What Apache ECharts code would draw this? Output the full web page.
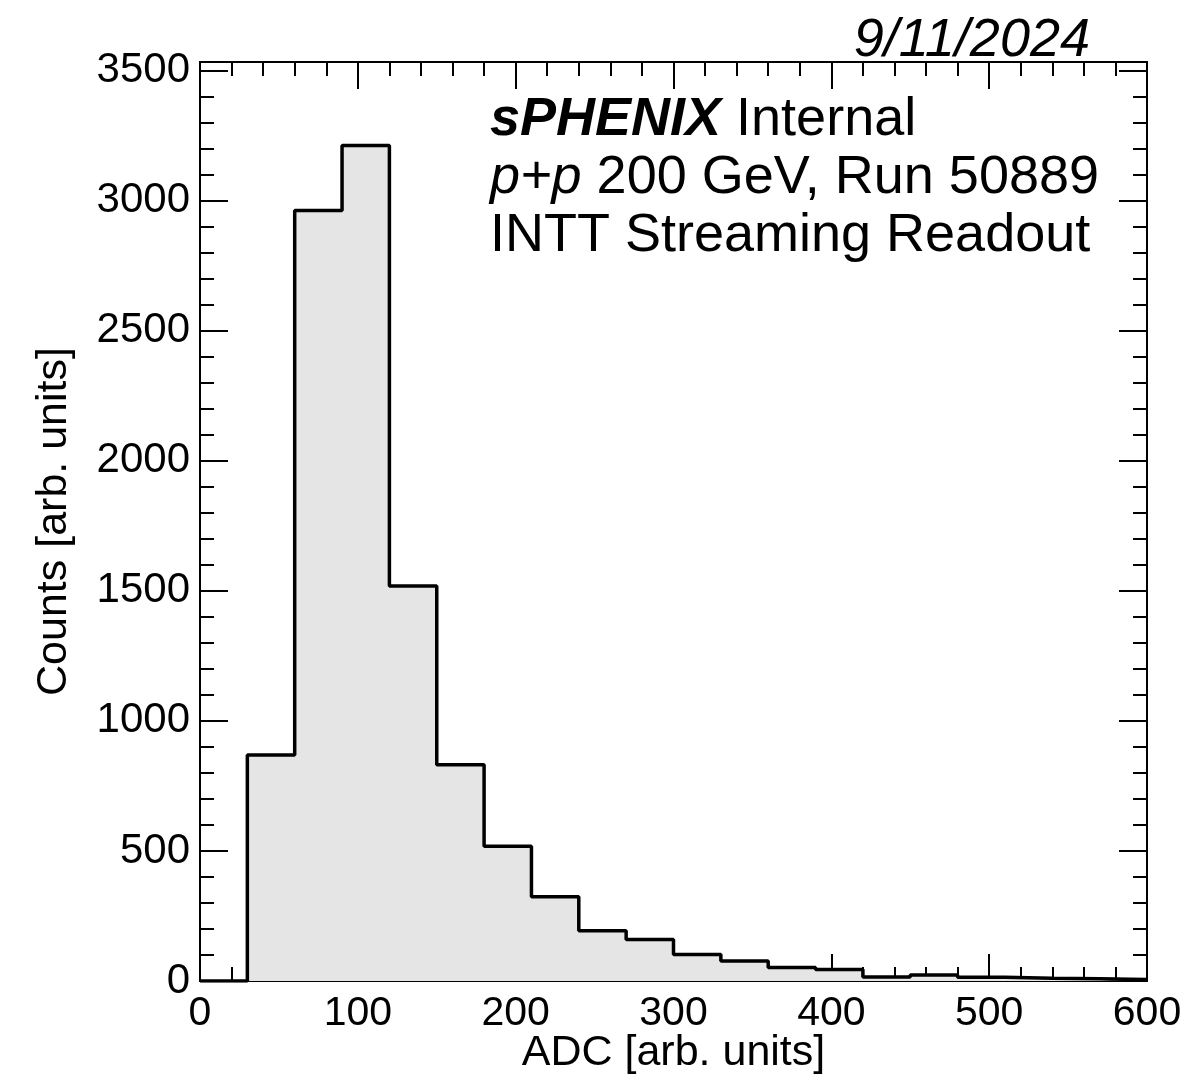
<!DOCTYPE html>
<html>
<head>
<meta charset="utf-8">
<script src="https://cdn.jsdelivr.net/npm/echarts@6/dist/echarts.min.js"></script>
<style>
html, body { margin: 0; padding: 0; background: #fff; }
#hist { width: 1189px; height: 1074px; }
</style>
</head>
<body>
<div id="hist"></div>
<script>
// ADC histogram, 30-unit bins from 0 to 600
var binEdges = [0, 30, 60, 90, 120, 150, 180, 210, 240, 270, 300, 330, 360, 390, 420, 450, 480, 510, 540, 570, 600];
var counts = [0, 869, 2962, 3212, 1519, 831, 518, 324, 193, 160, 102, 77, 52, 44, 15, 23, 14, 11, 9, 6];
var yMajorTicks = [0, 500, 1000, 1500, 2000, 2500, 3000, 3500];
var yMinorTicks = [100, 200, 300, 400, 600, 700, 800, 900, 1100, 1200, 1300, 1400, 1600, 1700, 1800, 1900,
	2100, 2200, 2300, 2400, 2600, 2700, 2800, 2900, 3100, 3200, 3300, 3400];

var FONT = 'Liberation Sans';
var yTop = Math.max.apply(null, counts) * 1.1; // ROOT style top margin

// step points: each bin value held from its left edge to the next
var stepData = binEdges.map(function (e, i) {
	return [e, counts[Math.min(i, counts.length - 1)]];
});

var chartDom = document.getElementById('hist');
var myChart = echarts.init(chartDom, null, { devicePixelRatio: 1 });

var lineBlack = { color: '#000', width: 2 };

function xAx(pos, withLabels) {
	return {
		type: 'value',
		position: pos,
		min: 0,
		max: 600,
		interval: 100,
		axisLine: { show: true, onZero: false, lineStyle: lineBlack },
		axisTick: { show: true, inside: true, length: 27, lineStyle: lineBlack },
		minorTick: { show: true, splitNumber: 5, length: 14, lineStyle: lineBlack },
		splitLine: { show: false },
		minorSplitLine: { show: false },
		axisLabel: {
			show: withLabels,
			fontFamily: FONT,
			fontSize: 41,
			color: '#000',
			margin: 12,
			showMinLabel: true,
			showMaxLabel: true,
			formatter: function (v) { return String(v); }
		},
		name: withLabels ? 'ADC [arb. units]' : '',
		nameLocation: 'middle',
		nameGap: 51,
		nameMoveOverlap: false,
		nameTextStyle: { fontFamily: FONT, fontSize: 43, color: '#000', verticalAlign: 'top' }
	};
}

function yAx(pos, ticks, len, withLabels) {
	return {
		type: 'value',
		position: pos,
		min: 0,
		max: yTop,
		axisLine: { show: true, onZero: false, lineStyle: lineBlack },
		axisTick: { show: true, inside: true, length: len, customValues: ticks, lineStyle: lineBlack },
		splitLine: { show: false },
		axisLabel: {
			show: withLabels,
			customValues: ticks,
			fontFamily: FONT,
			fontSize: 42,
			color: '#000',
			margin: 10,
			formatter: function (v) { return String(v); }
		},
		name: withLabels ? 'Counts [arb. units]' : '',
		nameLocation: 'middle',
		nameGap: 124,
		nameMoveOverlap: false,
		nameTextStyle: { fontFamily: FONT, fontSize: 43, color: '#000' }
	};
}

var option = {
	animation: false,
	backgroundColor: '#fff',
	grid: { left: 200, right: 42, top: 62, bottom: 93, containLabel: false, outerBoundsMode: 'none' },
	xAxis: [xAx('bottom', true), xAx('top', false)],
	yAxis: [
		yAx('left', yMajorTicks, 28, true),
		yAx('left', yMinorTicks, 14, false),
		yAx('right', yMajorTicks, 28, false),
		yAx('right', yMinorTicks, 14, false)
	],
	series: [
		{
			type: 'line',
			xAxisIndex: 0,
			yAxisIndex: 0,
			step: 'end',
			data: stepData,
			symbol: 'none',
			lineStyle: { color: '#000', width: 3.5 },
			areaStyle: { color: '#e5e5e5', opacity: 1 },
			z: 1
		}
	],
	graphic: [
		{
			type: 'text',
			right: 99,
			top: 14,
			style: {
				text: '9/11/2024',
				font: 'italic 54px "Liberation Sans"',
				fill: '#000'
			}
		},
		{
			type: 'text',
			left: 490,
			top: 91,
			style: {
				text: '{b|sPHENIX} Internal\n{i|p+p} 200 GeV, Run 50889\nINTT Streaming Readout',
				font: '54px "Liberation Sans"',
				lineHeight: 58,
				fill: '#000',
				rich: {
					b: { font: 'italic bold 54px "Liberation Sans"', lineHeight: 58 },
					i: { font: 'italic 54px "Liberation Sans"', lineHeight: 58 }
				}
			}
		}
	]
};

option && myChart.setOption(option);
</script>
</body>
</html>
